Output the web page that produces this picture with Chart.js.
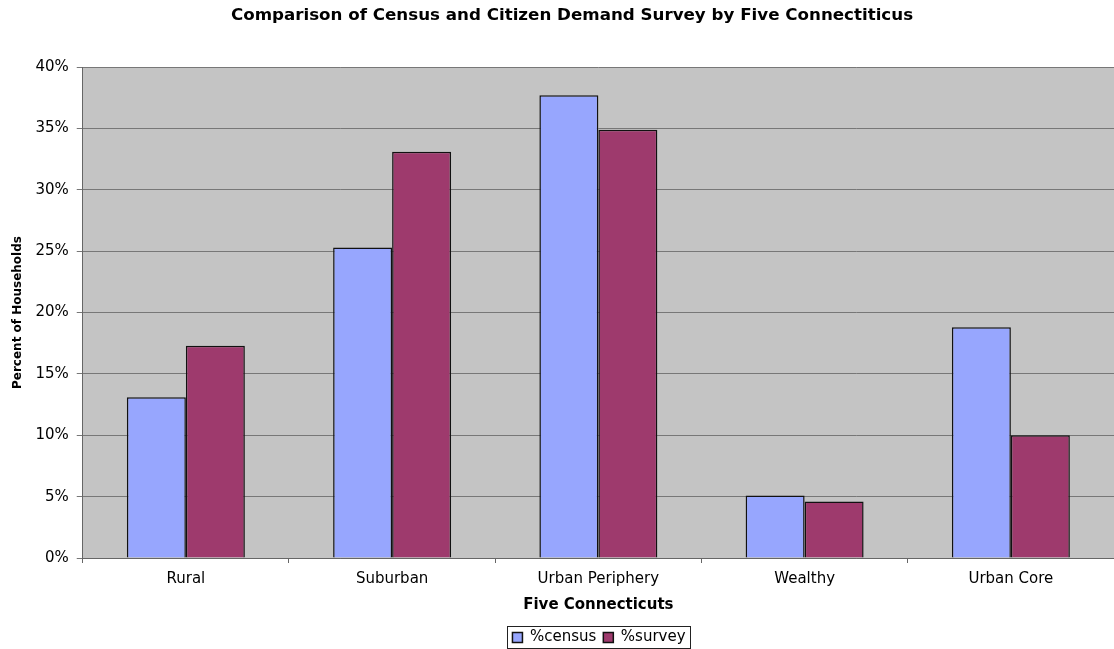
<!DOCTYPE html>
<html>
<head>
<meta charset="utf-8">
<title>Census vs Citizen Demand Survey</title>
<script src="https://cdn.jsdelivr.net/npm/chart.js"></script>
<style>
  html, body { margin: 0; padding: 0; background: #fff; }
  #wrap { width: 1114px; height: 649px; }
</style>
</head>
<body>
<div id="wrap"><canvas id="chart" width="1114" height="649"></canvas></div>
<script>
// categories and percent of households per series
const groups = ["Rural", "Suburban", "Urban Periphery", "Wealthy", "Urban Core"];
const censusPct = [13.1, 25.3, 37.7, 5.1, 18.8];
const surveyPct = [17.3, 33.1, 34.9, 4.6, 10.0];
const yTicks = [0, 5, 10, 15, 20, 25, 30, 35, 40];

const FONT = "'DejaVu Sans', 'Liberation Sans', Arial, sans-serif";

// grey plot background, legend/title nudged over the plot, framed legend
const decor = {
  id: 'decor',
  afterLayout(chart) {
    const lg = chart.legend, t = chart.titleBlock;
    lg.left += 38; lg.right += 38;
    lg.top += 6; lg.bottom += 6;
    t.left += 11; t.right += 11;
  },
  beforeDraw(chart) {
    const { ctx, chartArea: a } = chart;
    ctx.save();
    ctx.fillStyle = '#c4c4c4';
    ctx.fillRect(a.left, a.top, a.right - a.left, a.bottom - a.top);
    ctx.restore();
  },
  afterDraw(chart) {
    const lg = chart.legend;
    const pad = lg.options.labels.padding;
    const rowW = lg.lineWidths[0];
    const x0 = (lg.left + pad + lg.right - rowW) / 2;
    const ctx = chart.ctx;
    ctx.save();
    ctx.strokeStyle = '#222';
    ctx.lineWidth = 1;
    ctx.strokeRect(Math.round(x0 - 5) + 0.5, Math.round(lg.top + 3) + 0.5,
                   Math.round(rowW - pad + 10), 22);
    ctx.restore();
  }
};

new Chart(document.getElementById('chart'), {
  type: 'bar',
  data: {
    labels: groups,
    datasets: [
      { label: '%census', data: censusPct, backgroundColor: '#97a6fe',
        borderColor: '#111', borderWidth: 1.5 },
      { label: '%survey', data: surveyPct, backgroundColor: '#9e3a6d',
        borderColor: '#111', borderWidth: 1.5 }
    ]
  },
  options: {
    responsive: false,
    animation: false,
    categoryPercentage: 0.572,
    barPercentage: 1.0,
    layout: { padding: { left: 8, right: 0, top: 0, bottom: 0 } },
    plugins: {
      title: {
        display: true,
        text: 'Comparison of Census and Citizen Demand Survey by Five Connectiticus',
        color: '#000',
        font: { family: FONT, size: 16.7, weight: 'bold' },
        padding: { top: 6, bottom: 41 }
      },
      legend: {
        position: 'bottom',
        labels: {
          color: '#000',
          font: { family: FONT, size: 15 },
          boxWidth: 10,
          boxHeight: 10,
          padding: 7
        }
      },
      tooltip: { enabled: false }
    },
    scales: {
      x: {
        grid: { drawOnChartArea: false, color: '#666', tickLength: 5 },
        border: { color: '#666' },
        ticks: { color: '#000', font: { family: FONT, size: 15 }, padding: 7 },
        title: {
          display: true, text: 'Five Connecticuts', color: '#000',
          font: { family: FONT, size: 15, weight: 'bold' }, padding: { top: 1, bottom: 3 }
        }
      },
      y: {
        min: 0,
        max: 40,
        afterBuildTicks(scale) { scale.ticks = yTicks.map(v => ({ value: v })); },
        grid: { color: '#777', tickLength: 6 },
        border: { color: '#666' },
        ticks: {
          color: '#000', font: { family: FONT, size: 15 }, padding: 8,
          callback: v => v + '%'
        },
        title: {
          display: true, text: 'Percent of Households', color: '#000',
          font: { family: FONT, size: 12, weight: 'bold' }, padding: { top: 3, bottom: 2 }
        }
      }
    }
  },
  plugins: [decor]
});
</script>
</body>
</html>
